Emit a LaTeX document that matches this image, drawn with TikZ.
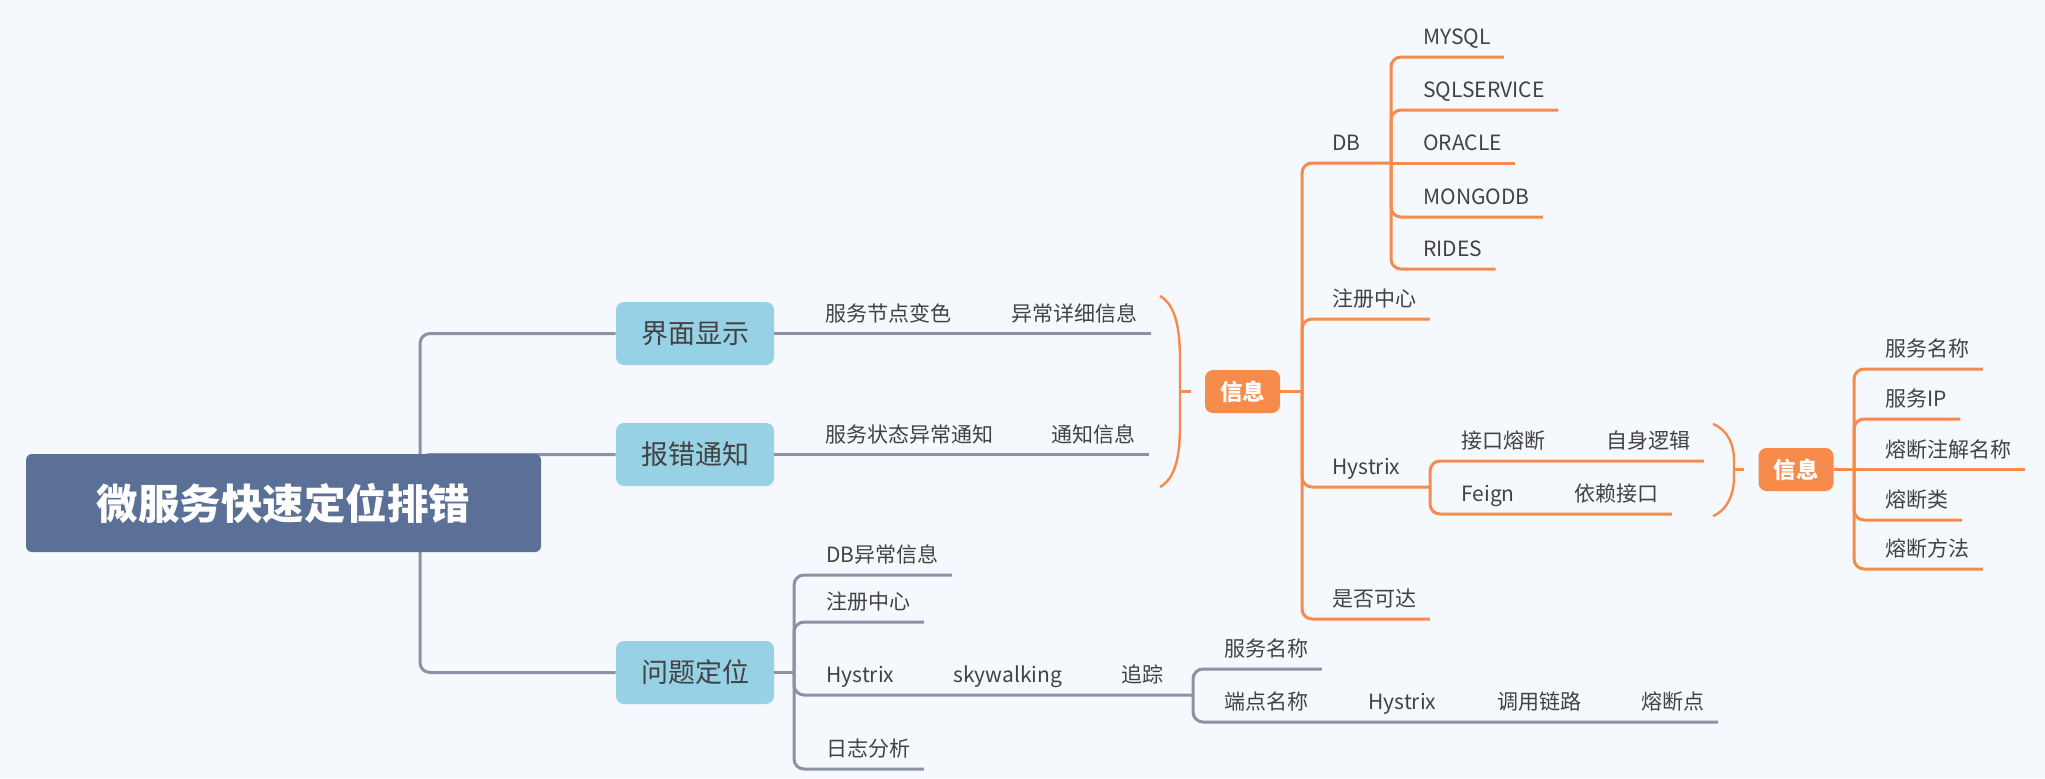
\documentclass[tikz,border=0pt]{standalone}
\usepackage{fontspec}
\setmainfont{Noto Sans CJK SC}
\definecolor{bgcol}{HTML}{F5F9FD}
\definecolor{rootcol}{HTML}{5A7097}
\definecolor{topiccol}{HTML}{96D1E6}
\definecolor{infocol}{HTML}{F68B4C}
\definecolor{textcol}{HTML}{424242}
\definecolor{graycol}{HTML}{8A93A6}
\definecolor{orangecol}{HTML}{F68B4C}

\begin{document}
\begin{tikzpicture}[x=0.5pt,y=-0.5pt,
  root node/.style={fill=rootcol,rounded corners=3pt,text=white,minimum width=257.5pt,minimum height=49pt,font=\fontsize{20.75}{24}\selectfont\bfseries},
  main node/.style={fill=topiccol,rounded corners=4pt,text=textcol,minimum width=79pt,minimum height=31.5pt,font=\fontsize{13.5}{16}\selectfont},
  info node/.style={fill=infocol,rounded corners=4pt,text=white,minimum width=37.5pt,minimum height=21.5pt,font=\fontsize{11.25}{13}\selectfont\bfseries},
  leaf/.style={anchor=south west,inner xsep=6.5pt,inner ysep=0pt,text height=8pt,text depth=6pt,text=textcol,font=\fontsize{10.5}{12}\selectfont},
  gline/.style={draw=graycol,line width=1.5pt,rounded corners=5pt},
  oline/.style={draw=orangecol,line width=1.5pt,rounded corners=5pt},
  brace/.style={draw=orangecol,line width=1.2pt}]

  \fill[bgcol] (0,0) rectangle (2045,778);
  \useasboundingbox (0,0) rectangle (2045,778);

  \node[main node] (show) at (695,333.5) {界面显示};
  \node[main node] (notify) at (695,454.5) {报错通知};
  \node[main node] (locate) at (695,672.5) {问题定位};
  \coordinate (hub) at (420,503);

  \node[leaf] (color) at (812,333.5) {服务节点变色};
  \node[leaf] (detail) at (998,333.5) {异常详细信息};
  \node[leaf] (state) at (812,454.5) {服务状态异常通知};
  \node[leaf] (notice) at (1038,454.5) {通知信息};

  \node[info node] (info1) at (1242.5,391.5) {信息};
  \coordinate (brace1) at (1180,391.5);
  \coordinate (ohub) at (1302,391.5);
  \node[leaf] (db) at (1319,163) {DB};
  \coordinate (dbj) at (1391,163);
  \node[leaf] (mysql) at (1410,57) {MYSQL};
  \node[leaf] (sqlsrv) at (1410,110) {SQLSERVICE};
  \node[leaf] (oracle) at (1410,163) {ORACLE};
  \node[leaf] (mongo) at (1410,217) {MONGODB};
  \node[leaf] (rides) at (1410,269) {RIDES};
  \node[leaf] (reg) at (1319,319) {注册中心};
  \node[leaf] (hys) at (1319,487) {Hystrix};
  \coordinate (hysj) at (1430,487);
  \node[leaf] (fuse) at (1448,461) {接口熔断};
  \node[leaf] (self) at (1593,461) {自身逻辑};
  \node[leaf] (feign) at (1448,514) {Feign};
  \node[leaf] (rely) at (1561,514) {依赖接口};
  \node[leaf] (reach) at (1319,619) {是否可达};

  \node[info node] (info2) at (1796,469.5) {信息};
  \coordinate (brace2) at (1734,469.5);
  \coordinate (ohub2) at (1854,469.5);
  \node[leaf] (sname) at (1872,369) {服务名称};
  \node[leaf] (sip) at (1872,419) {服务IP};
  \node[leaf] (annot) at (1872,469.5) {熔断注解名称};
  \node[leaf] (fclass) at (1872,520) {熔断类};
  \node[leaf] (fmethod) at (1872,569) {熔断方法};

  \coordinate (lhub) at (794,672.5);
  \node[leaf] (dberr) at (813,575) {DB异常信息};
  \node[leaf] (lreg) at (813,622) {注册中心};
  \node[leaf] (lhys) at (813,695) {Hystrix};
  \node[leaf] (sky) at (940,695) {skywalking};
  \node[leaf] (trace) at (1108,695) {追踪};
  \coordinate (tj) at (1193,695);
  \node[leaf] (tname) at (1211,669) {服务名称};
  \node[leaf] (endpt) at (1211,722) {端点名称};
  \node[leaf] (ehys) at (1355,722) {Hystrix};
  \node[leaf] (chain) at (1484,722) {调用链路};
  \node[leaf] (fpoint) at (1628,722) {熔断点};
  \node[leaf] (logs) at (813,769) {日志分析};

  \draw[gline] (hub) |- (show.west);
  \draw[gline] (hub) |- (notify.west);
  \draw[gline] (hub) |- (locate.west);
  \draw[gline] (show.east) -- (detail.south east);
  \draw[gline] (notify.east) -- (notice.south east);
  \draw[gline] (locate.east) -- (lhub);
  \draw[gline] (lhub) |- (dberr.south east);
  \draw[gline] (lhub) |- (lreg.south east);
  \draw[gline] (lhub) |- (trace.south east) -- (tj);
  \draw[gline] (lhub) |- (logs.south east);
  \draw[gline] (tj) |- (tname.south east);
  \draw[gline] (tj) |- (fpoint.south east);

  \draw[brace] (1160,296) .. controls (1176,305) and (1180,330) .. (1180,360) -- (1180,424) .. controls (1180,455) and (1176,478) .. (1160,487);
  \draw[oline] (brace1) -- ([xshift=-7pt]info1.west);
  \draw[oline] (info1.east) -- (ohub);
  \draw[oline] (ohub) |- (db.south east) -- (dbj);
  \draw[oline] (ohub) |- (reg.south east);
  \draw[oline] (ohub) |- (hysj);
  \draw[oline] (ohub) |- (reach.south east);
  \draw[oline] (dbj) |- (mysql.south east);
  \draw[oline] (dbj) |- (sqlsrv.south east);
  \draw[oline] (dbj) -- (oracle.south east);
  \draw[oline] (dbj) |- (mongo.south east);
  \draw[oline] (dbj) |- (rides.south east);
  \draw[oline] (hysj) |- (self.south east);
  \draw[oline] (hysj) |- (rely.south east);

  \draw[brace] (1713,424) .. controls (1728,430) and (1734,445) .. (1734,460) -- (1734,478) .. controls (1734,493) and (1728,510) .. (1713,516);
  \draw[oline] (brace2) -- ([xshift=-7pt]info2.west);
  \draw[oline] (info2.east) -- (ohub2);
  \draw[oline] (ohub2) |- (sname.south east);
  \draw[oline] (ohub2) |- (sip.south east);
  \draw[oline] (ohub2) -- (annot.south east);
  \draw[oline] (ohub2) |- (fclass.south east);
  \draw[oline] (ohub2) |- (fmethod.south east);

  \node[root node] (root) at (283.5,503) {微服务快速定位排错};
\end{tikzpicture}
\end{document}
